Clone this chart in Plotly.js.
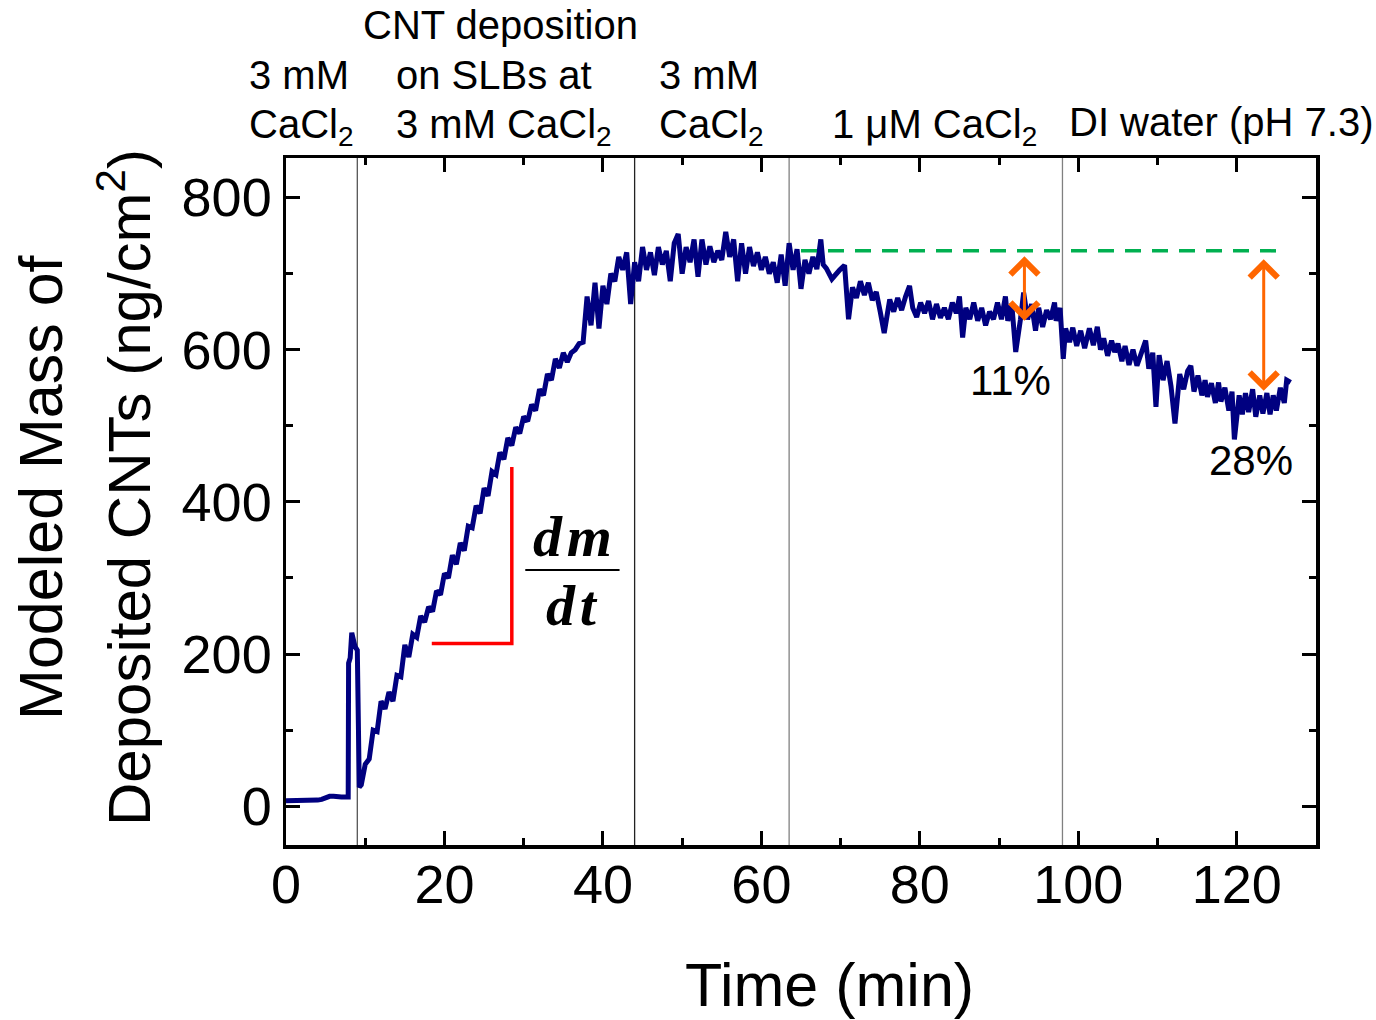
<!DOCTYPE html>
<html>
<head>
<meta charset="utf-8">
<script src="https://cdn.plot.ly/plotly-3.0.1.min.js"></script>
<style>html,body{margin:0;padding:0;background:#fff;}#chart{width:1376px;height:1020px;}</style>
</head>
<body>
<div id="chart"></div>
<script>
// ---- data ----
const timeMin = [
  0, 1, 2, 3, 4, 4.5, 5, 5.5, 6, 6.5, 7, 7.5, 7.85, 7.9, 8.1, 8.3, 8.5, 8.7, 9.0, 9.1, 9.25,
  9.5, 10, 10.5, 11, 11.5, 12, 12.5, 13, 13.5, 14, 14.5, 15, 15.5, 16, 16.5, 17, 17.5, 18, 18.5, 19, 19.5,
  20, 20.5, 21, 21.5, 22, 22.5, 23, 23.5, 24, 24.5, 25, 25.5, 26, 26.5, 27, 27.5, 28, 28.5, 29, 29.5,
  30, 30.5, 31, 31.5, 32, 32.5, 33, 33.5, 34, 34.5, 35, 35.5, 36, 36.5, 37, 37.5, 38, 38.5, 39, 39.5,
  40, 40.5, 41, 41.5, 42, 42.5, 43, 43.5, 44, 44.5, 45, 45.5, 46, 46.5, 47, 47.5, 48, 48.5, 49, 49.5,
  50, 50.5, 51, 51.5, 52, 52.5, 53, 53.5, 54, 54.5, 55, 55.5, 56, 56.5, 57, 57.5, 58, 58.5, 59, 59.5,
  60, 60.5, 61, 61.5, 62, 62.5, 63, 63.5, 64, 64.5, 65, 65.5, 66, 66.5, 67, 67.5, 67.8, 68.2, 68.9, 69.9,
  70.5, 71, 71.5, 72, 72.5, 73, 73.5, 74, 74.5, 75, 75.5, 76.2, 76.7, 77.2, 77.7, 78.2, 78.7, 79.1, 79.6,
  80.1, 80.6, 81.1, 81.6, 82.1, 82.6, 83.1, 83.6, 84.1, 84.6, 85.0, 85.4, 85.8, 86.3, 86.8, 87.3, 87.8,
  88.3, 88.8, 89.3, 89.8, 90.3, 90.8, 91.1, 91.6, 92.1, 92.7, 93.1, 93.6, 94.1, 94.6, 95.0, 95.5, 96.0,
  96.5, 97.0, 97.2, 97.7, 98.1, 98.4, 98.9, 99.3, 99.8, 100.3, 100.8, 101.4, 101.9, 102.4, 102.8, 103.2,
  103.7, 104.2, 104.6, 105.0, 105.5, 105.9, 106.4, 106.9, 107.4, 108.0, 108.5, 108.9, 109.4, 109.8, 110.2,
  110.7, 111.2, 111.7, 112.2, 112.8, 113.3, 113.8, 114.2, 114.6, 115.1, 115.6, 116.0, 116.3, 116.8, 117.3,
  117.7, 118.0, 118.5, 119.0, 119.4, 119.7, 120.3, 120.7, 121.1, 121.5, 122.0, 122.4, 122.9, 123.3, 123.8,
  124.2, 124.6, 125.0, 125.5, 126.0, 126.3, 126.8, 127.2
];
const massNg = [
  7, 7, 8, 8, 8, 9, 11, 13, 13, 12, 12, 12, 12, 188, 195, 228, 220, 210, 205, 30, 25,
  28, 55, 62, 100, 98, 138, 128, 150, 138, 172, 170, 212, 196, 226, 222, 250, 242, 262, 256, 283, 278,
  306, 300, 330, 318, 346, 336, 368, 366, 395, 385, 418, 408, 440, 436, 465, 456, 484, 474, 498, 490,
  512, 506, 528, 520, 548, 540, 568, 560, 588, 576, 596, 584, 596, 600, 608, 610, 670, 632, 688, 628,
  684, 660, 700, 690, 722, 705, 728, 660, 715, 690, 735, 705, 728, 698, 735, 712, 730, 690, 740, 752,
  700, 735, 715, 745, 696, 745, 712, 736, 715, 730, 718, 755, 722, 745, 690, 740, 700, 735, 710,
  728, 705, 722, 700, 715, 688, 725, 684, 740, 705, 732, 680, 718, 700, 722, 706, 745, 712, 707, 693,
  705, 711, 640, 682, 668, 690, 672, 688, 665, 676, 650, 622, 666, 650, 668, 652, 670, 684, 655,
  643, 662, 648, 664, 640, 660, 642, 655, 640, 662, 648, 670, 616, 655, 640, 662, 638,
  655, 632, 650, 640, 662, 640, 670, 638, 660, 597, 640, 675, 640, 660, 625, 655, 630,
  652, 640, 662, 638, 655, 588, 628, 610, 629, 605, 625, 602, 628, 606, 630, 600,
  615, 592, 612, 597, 608, 585, 605, 580, 600, 579, 595, 612, 575, 596, 525,
  593, 560, 585, 552, 503, 568, 548, 572, 579, 545, 566, 540, 560, 538, 556,
  530, 557, 532, 550, 520, 545, 482, 540, 515, 543, 518, 548, 512, 540, 516,
  543, 515, 540, 520, 550, 530, 560, 557
];
const phaseBoundaries = [9, 44, 63.5, 98];
const boundaryColors = ['#555555', '#222222', '#808080', '#808080'];
const slopeX = [18.4, 28.5, 28.5];
const slopeY = [214, 214, 446];
const referenceLevel = 730;
const referenceSpan = [65, 125.4];
const lossArrows = [
  {x: 93.2, top: 734, bottom: 638, label: '11%', lx: 91.4, ly: 560},
  {x: 123.4, top: 730, bottom: 546, label: '28%', lx: 121.8, ly: 455}
];
const phaseLabels = [
  {text: '3 mM', x: -0.038, y: 1.121, anchor: 'left'},
  {text: 'CaCl<sub>2</sub>', x: -0.038, y: 1.045, anchor: 'left'},
  {text: 'CNT deposition', x: 0.2078, y: 1.194, anchor: 'center'},
  {text: 'on SLBs at', x: 0.1045, y: 1.121, anchor: 'left'},
  {text: '3 mM CaCl<sub>2</sub>', x: 0.1045, y: 1.045, anchor: 'left'},
  {text: '3 mM', x: 0.3605, y: 1.121, anchor: 'left'},
  {text: 'CaCl<sub>2</sub>', x: 0.3605, y: 1.045, anchor: 'left'},
  {text: '1 \u03bcM CaCl<sub>2</sub>', x: 0.528, y: 1.045, anchor: 'left'},
  {text: 'DI water (pH 7.3)', x: 0.758, y: 1.052, anchor: 'left'}
];
const yTitleLines = ['Modeled Mass of', 'Deposited CNTs (ng/cm<sup>2</sup>)'];
const xTitle = 'Time (min)';

const FONT = 'Liberation Sans, Arial, sans-serif';

const traces = [
  {x: timeMin, y: massNg, type: 'scatter', mode: 'lines',
   line: {color: '#000080', width: 5}, hoverinfo: 'skip'},
  {x: slopeX, y: slopeY, type: 'scatter', mode: 'lines',
   line: {color: '#ff0000', width: 3.5}, hoverinfo: 'skip'},
  {x: referenceSpan, y: [referenceLevel, referenceLevel], type: 'scatter', mode: 'lines',
   line: {color: '#00b050', width: 3.5, dash: '16px,11px'}, hoverinfo: 'skip'}
];

const shapes = phaseBoundaries.map((b, i) => ({
  type: 'line', xref: 'x', yref: 'paper', x0: b, x1: b, y0: 0, y1: 1,
  line: {color: boundaryColors[i], width: 1.3}, layer: 'below'
}));
// fraction bar for dm/dt
shapes.push({type: 'line', xref: 'x', yref: 'y', x0: 30.2, x1: 42.1, y0: 310.5, y1: 310.5,
  line: {color: '#000', width: 2}});

const annotations = [];
phaseLabels.forEach(p => annotations.push({
  text: p.text, xref: 'paper', yref: 'paper', x: p.x, y: p.y,
  xanchor: p.anchor, yanchor: 'middle', showarrow: false,
  font: {family: FONT, size: 40, color: '#000'}
}));
annotations.push({text: yTitleLines[0], xref: 'paper', yref: 'paper', x: -0.238, y: 0.521,
  xanchor: 'center', yanchor: 'middle', textangle: -90, showarrow: false,
  font: {family: FONT, size: 61, color: '#000'}});
annotations.push({text: yTitleLines[1], xref: 'paper', yref: 'paper', x: -0.1564, y: 0.521,
  xanchor: 'center', yanchor: 'middle', textangle: -90, showarrow: false,
  font: {family: FONT, size: 60, color: '#000'}});
annotations.push({text: xTitle, xref: 'paper', yref: 'paper', x: 0.528, y: -0.204,
  xanchor: 'center', yanchor: 'middle', showarrow: false,
  font: {family: FONT, size: 61, color: '#000'}});
lossArrows.forEach(a => {
  annotations.push({
    text: ' ', xref: 'x', yref: 'y', axref: 'x', ayref: 'y',
    x: a.x, y: a.bottom, ax: a.x, ay: a.top, showarrow: true,
    arrowside: 'end+start', arrowhead: 4, startarrowhead: 4,
    arrowsize: 1.8, startarrowsize: 1.8, arrowwidth: 3, arrowcolor: '#ff6600',
    standoff: 0, startstandoff: 0
  });
  annotations.push({
    text: a.label, xref: 'x', yref: 'y', x: a.lx, y: a.ly, showarrow: false,
    font: {family: FONT, size: 42, color: '#000'}
  });
});
annotations.push({text: '<i><b>d\u200am</b></i>', xref: 'x', yref: 'y', x: 36.1, y: 354, showarrow: false,
  font: {family: 'Liberation Serif, Times New Roman, serif', size: 58, color: '#000'}});
annotations.push({text: '<i><b>d\u200at</b></i>', xref: 'x', yref: 'y', x: 36.1, y: 264, showarrow: false,
  font: {family: 'Liberation Serif, Times New Roman, serif', size: 58, color: '#000'}});

const layout = {
  width: 1376, height: 1020,
  margin: {l: 286, r: 60, t: 158, b: 175},
  paper_bgcolor: '#fff', plot_bgcolor: '#fff',
  showlegend: false,
  font: {family: FONT, color: '#000'},
  xaxis: {
    range: [0, 130], tick0: 0, dtick: 20,
    ticks: 'inside', ticklen: 14, tickwidth: 3, tickcolor: '#000',
    minor: {dtick: 10, ticks: 'inside', ticklen: 7, tickwidth: 3, tickcolor: '#000'},
    showline: true, linewidth: 3.5, linecolor: '#000', mirror: 'ticks',
    showgrid: false, zeroline: false,
    tickfont: {family: FONT, size: 54, color: '#000'},
    ticklabelstandoff: -10
  },
  yaxis: {
    range: [-51, 852], tick0: 0, dtick: 200,
    ticks: 'inside', ticklen: 14, tickwidth: 3, tickcolor: '#000',
    minor: {dtick: 100, ticks: 'inside', ticklen: 7, tickwidth: 3, tickcolor: '#000'},
    showline: true, linewidth: 3.5, linecolor: '#000', mirror: 'ticks',
    showgrid: false, zeroline: false,
    tickfont: {family: FONT, size: 54, color: '#000'},
    ticklabelstandoff: 0
  },
  shapes: shapes,
  annotations: annotations
};

Plotly.newPlot('chart', traces, layout, {displayModeBar: false, staticPlot: true});
</script>
</body>
</html>
